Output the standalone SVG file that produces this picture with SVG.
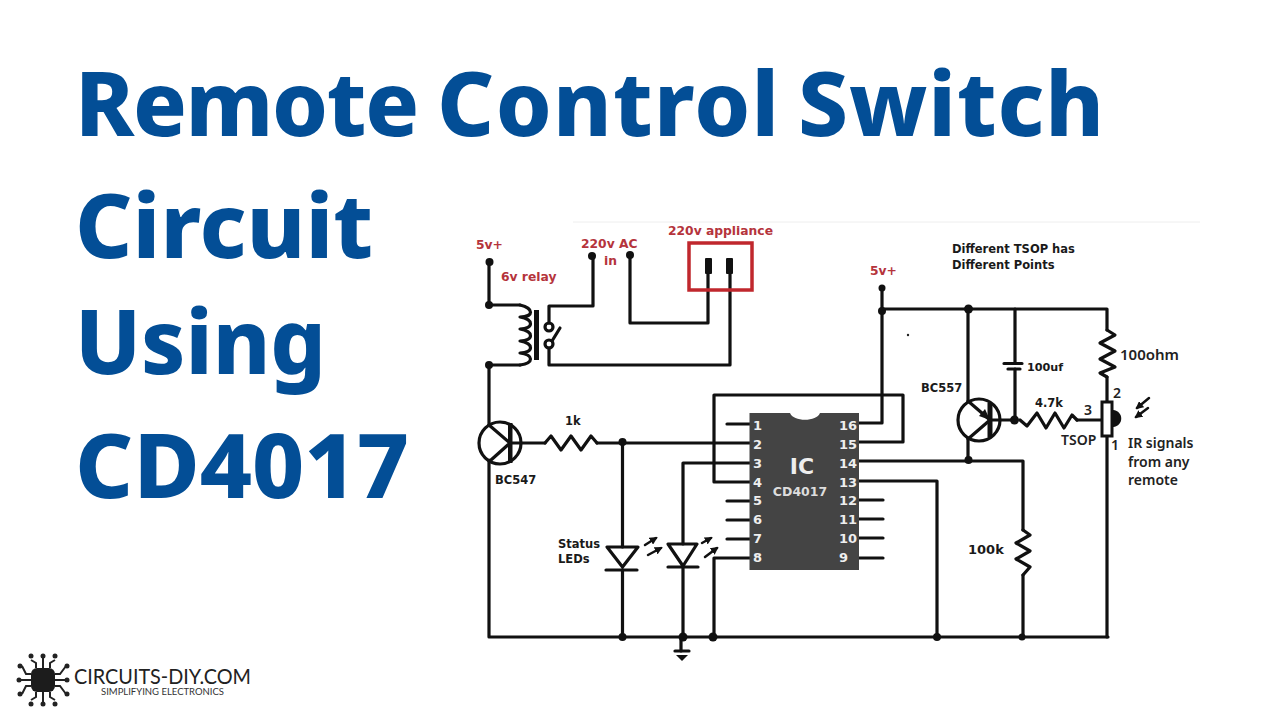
<svg xmlns="http://www.w3.org/2000/svg" width="1280" height="720" viewBox="0 0 1280 720">
<style>
.t{font-family:"Noto Sans","Open Sans",sans-serif;font-weight:800;font-size:89px;fill:#034e96}
.w{fill:none;stroke:#111;stroke-width:3.200;stroke-linecap:round;stroke-linejoin:round}
.d{fill:#111}
.r{font-family:"DejaVu Sans",sans-serif;font-weight:700;font-size:12.300px;fill:#b5343c}
.b{font-family:"DejaVu Sans",sans-serif;font-weight:700;font-size:11.500px;fill:#1a1a1a}
.n{font-family:"Noto Sans",sans-serif;font-weight:600;font-size:14px;fill:#222}
.p{font-family:"DejaVu Sans",sans-serif;font-weight:700;font-size:13px;fill:#eee}
.l{fill:none;stroke:#111;stroke-width:2.500;stroke-linecap:round}
</style>
<defs>
<marker id="ah" markerUnits="userSpaceOnUse" markerWidth="8" markerHeight="8" refX="6" refY="4" orient="auto"><path d="M0 0L8 4L0 8z" fill="#111"/></marker>
</defs>
<rect width="1280" height="720" fill="#fff"/>
<g id="title">
<text class="t" x="75" y="136"><tspan letter-spacing="-1.300">Remote</tspan> <tspan x="437" letter-spacing="1.300">Control</tspan> <tspan x="798" letter-spacing="0.900">Switch</tspan></text>
<text class="t" x="75" y="258" textLength="298" lengthAdjust="spacingAndGlyphs">Circuit</text>
<text class="t" x="75" y="374" textLength="251" lengthAdjust="spacingAndGlyphs">Using</text>
<text class="t" x="75" y="498" textLength="334" lengthAdjust="spacingAndGlyphs">CD4017</text>
</g>
<line x1="573" y1="222" x2="1200" y2="222" stroke="#eee"/>
<circle cx="908" cy="335" r="1.200" fill="#222"/>
<g id="connectors" class="w">
<path d="M489 262V305H520M489 365H520M489 365V425M489 460V637H1108"/>
<path d="M593 256V306H549V323M549 348V365H730V273"/>
<path d="M630 255V323H708V273"/>
<path d="M511 443H545M597 443H750M622.500 442V547M622.500 570V637"/>
<path d="M683 544V463H750M683 567V637M681 637V651"/>
<path d="M714 637V558H750M750 482H714V395H903V442H859"/>
<path d="M859 423H882V288M882 309H1107V330M1107 377V402M1107 436V637"/>
<path d="M968 309V401M968 439V461M859 461H1023V530M1023 575V637M859 481H937V637"/>
<path d="M1015 309V363M1015 369V420M1077 420H1101"/>
<path d="M727 424H750M727 501H750M727 520H750M727 539H750M859 500H883M859 519H883M859 538H883M859 558H883"/>
</g>
<g id="junctions" class="d">
<circle cx="489.500" cy="262" r="4"/><circle cx="489" cy="305" r="4"/><circle cx="489" cy="365" r="4"/>
<circle cx="592" cy="256" r="4"/><circle cx="630" cy="255" r="4"/><circle cx="622.500" cy="442" r="4"/>
<circle cx="622.500" cy="637" r="4"/><circle cx="683" cy="637" r="4.500"/><circle cx="713" cy="637" r="4.500"/>
<circle cx="937" cy="637" r="4"/><circle cx="1022" cy="637" r="3.500"/><circle cx="882" cy="288" r="3.500"/>
<circle cx="882" cy="311" r="4"/><circle cx="968.500" cy="309" r="4.500"/><circle cx="1014.500" cy="420" r="4.500"/>
<circle cx="968.500" cy="460" r="4"/>
</g>
<g id="relay">
<path class="w" d="M520 305C534 308 534 317 520 317C534 319 534 329 520 329C534 331 534 341 520 341C534 343 534 353 520 353C534 355 534 363 520 365"/>
<rect x="534" y="310" width="5" height="50" fill="#111"/>
<circle class="w" cx="549" cy="327" r="4"/><circle class="w" cx="549" cy="344" r="4"/>
<path class="w" d="M552 341L560 328"/>
</g>
<g id="appliance">
<rect x="689" y="243" width="63" height="47" fill="none" stroke="#c0272d" stroke-width="3.500"/>
<rect x="705" y="258" width="7" height="16" rx="1" fill="#111"/>
<rect x="726" y="258" width="7" height="16" rx="1" fill="#111"/>
</g>
<g id="q1-bc547">
<circle class="w" cx="500" cy="443" r="21"/>
<path d="M508 423H512.500V463H508Z" fill="#111"/>
<path class="w" d="M510 443L489 425M510 443L491 460"/>
</g>
<g id="r-1k"><path class="w" d="M545 443L551 436L561 450L571 436L581 450L591 436L597 443"/></g>
<g id="led1">
<path class="w" d="M607 547H638L622.500 567ZM606 570H637"/>
<path class="l" marker-end="url(#ah)" d="M645 545L656 538"/>
<path class="l" marker-end="url(#ah)" d="M648 555L661 548"/>
</g>
<g id="led2">
<path class="w" d="M668 544H697L683 566ZM668 567H698"/>
<path class="l" marker-end="url(#ah)" d="M702 543L711 538"/>
<path class="l" marker-end="url(#ah)" d="M705 557L717 548"/>
</g>
<g id="ground">
<path class="w" d="M675 651H689"/><path d="M676 655H688L682 661Z" fill="#111"/>
</g>
<g id="ic">
<path d="M749.500 413H790C793 422 817 422 820 413H859V570H749.500Z" fill="#444"/>
<text class="p" x="753" y="430">1</text><text class="p" x="753" y="449">2</text><text class="p" x="753" y="468">3</text><text class="p" x="753" y="487">4</text>
<text class="p" x="753" y="505">5</text><text class="p" x="753" y="524">6</text><text class="p" x="753" y="543">7</text><text class="p" x="753" y="562">8</text>
<text class="p" x="839" y="430">16</text><text class="p" x="839" y="449">15</text><text class="p" x="839" y="468">14</text><text class="p" x="839" y="487">13</text>
<text class="p" x="839" y="505">12</text><text class="p" x="839" y="524">11</text><text class="p" x="839" y="543">10</text><text class="p" x="839" y="562">9</text>
<text x="802" y="474" text-anchor="middle" font-family="DejaVu Sans,sans-serif" font-weight="700" font-size="22" fill="#eee">IC</text>
<text x="800" y="496" text-anchor="middle" font-family="DejaVu Sans,sans-serif" font-size="12.500" font-weight="700" fill="#ddd">CD4017</text>
</g>
<g id="q2-bc557">
<circle class="w" cx="979" cy="420" r="21"/>
<path d="M987.500 403H992.500V437H987.500Z" fill="#111"/>
<path class="w" d="M990 420H1015M990 420L968 401M990 420L968 439"/>
<path d="M990 420L979 416L985 409Z" fill="#111"/>
</g>
<g id="c-100uf"><path class="w" d="M1004 363.500H1022M1008 369H1020"/></g>
<g id="r-4k7"><path class="w" d="M1020 420L1027 426L1037 413L1046 428L1055 413L1064 428L1072 415L1077 420"/></g>
<g id="r-100ohm"><path class="w" d="M1107 330L1115 335L1100 343L1115 351L1100 359L1115 367L1100 373L1107 377"/></g>
<g id="r-100k"><path class="w" d="M1023 530L1030 535L1016 543L1030 551L1016 559L1030 567L1023 575"/></g>
<g id="tsop">
<rect x="1102" y="402" width="10" height="34" fill="#fff" stroke="#111" stroke-width="3"/>
<path d="M1113 410C1124 411 1124 426 1113 427Z" fill="#111"/>
<path class="l" stroke-width="3" marker-end="url(#ah)" d="M1149 398L1137 408"/>
<path class="l" stroke-width="3" marker-end="url(#ah)" d="M1148 408L1136 417"/>
</g>
<g id="labels">
<text class="r" x="476" y="249">5v+</text>
<text class="r" x="581" y="248">220v AC</text>
<text class="r" x="604" y="265">in</text>
<text class="r" x="501" y="281">6v relay</text>
<text class="r" x="668" y="235">220v appliance</text>
<text class="r" x="870" y="275">5v+</text>
<text class="b" x="565" y="425">1k</text>
<text class="b" x="495" y="484">BC547</text>
<text class="b" x="558" y="548">Status</text>
<text class="b" x="558" y="563">LEDs</text>
<text class="b" x="968" y="554" style="font-size:13px">100k</text>
<text class="b" x="952" y="253">Different TSOP has</text>
<text class="b" x="952" y="269">Different Points</text>
<text class="n" x="1120" y="360" style="font-size:15px">100ohm</text>
<text class="b" x="1027" y="371" style="font-size:11.200px">100uf</text>
<text class="b" x="921" y="392">BC557</text>
<text class="b" x="1035" y="407">4.7k</text>
<text class="n" x="1084" y="415">3</text>
<text class="n" x="1113" y="398">2</text>
<text class="n" x="1111" y="450">1</text>
<text class="n" x="1061" y="445">TSOP</text>
<text class="n" x="1128" y="448">IR signals</text>
<text class="n" x="1128" y="467">from any</text>
<text class="n" x="1128" y="485">remote</text>
</g>
<g id="logo">
<rect x="31" y="668" width="24" height="24" rx="6" fill="#1c1c1c"/>
<g fill="none" stroke="#222" stroke-width="2">
<path d="M43 668V657M36 668V663L31 660M50 668V663L55 660M43 692V703M36 692V697L31 700M50 692V697L55 700M31 680H20M31 674H26L22 666M31 686H26L22 694M55 680H66M55 674H60L66 666M55 686H60L66 694"/>
</g>
<g fill="#222">
<circle cx="43" cy="656" r="2.500"/><circle cx="31" cy="656" r="2.500"/><circle cx="55" cy="656" r="2.500"/>
<circle cx="43" cy="704" r="2.500"/><circle cx="31" cy="704" r="2.500"/><circle cx="55" cy="704" r="2.500"/>
<circle cx="19" cy="680" r="2.500"/><circle cx="20" cy="666" r="2.500"/><circle cx="20" cy="694" r="2.500"/>
<circle cx="67" cy="680" r="2.500"/><circle cx="67" cy="666" r="2.500"/><circle cx="67" cy="694" r="2.500"/>
</g>
<text x="74" y="684" font-family="Lato,sans-serif" font-size="21.500" fill="#222" textLength="177" lengthAdjust="spacingAndGlyphs">CIRCUITS-DIY.COM</text>
<text x="101" y="695" font-family="Lato,sans-serif" font-size="8.500" fill="#333" textLength="123" lengthAdjust="spacingAndGlyphs">SIMPLIFYING ELECTRONICS</text>
</g>
</svg>
